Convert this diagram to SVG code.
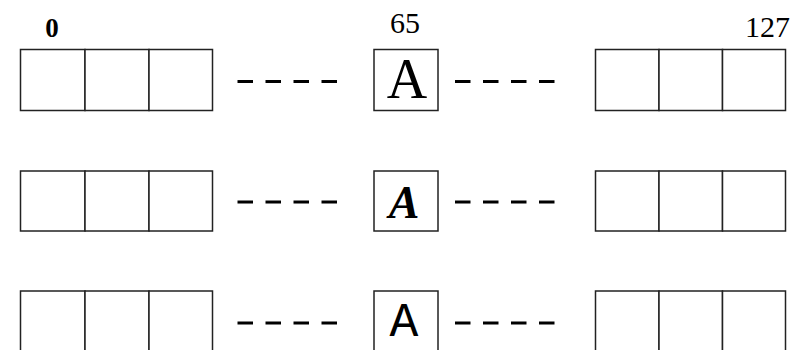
<svg xmlns="http://www.w3.org/2000/svg" width="808" height="350" viewBox="0 0 808 350">
<style>
.cell{fill:#fff;stroke:#222;stroke-width:1.5}
.dash{stroke:#000;stroke-width:3;stroke-dasharray:15.5 12.5;fill:none}
.idx{font-family:"Liberation Serif","Times New Roman",serif;font-size:30px;fill:#000}
</style>
<rect width="808" height="350" fill="#fff"/>
<g id="labels">
<text class="idx" x="52" y="37" text-anchor="middle" font-weight="bold" style="font-size:27px">0</text>
<text class="idx" x="405" y="33" text-anchor="middle">65</text>
<text class="idx" x="790" y="37" text-anchor="end">127</text>
</g>
<g id="row1">
<g id="r1-left"><rect class="cell" x="20.5" y="49.5" width="64.5" height="61"/><rect class="cell" x="85" y="49.5" width="64" height="61"/><rect class="cell" x="149" y="49.5" width="63.5" height="61"/></g>
<g id="r1-mid"><rect class="cell" x="374" y="49.5" width="64" height="61"/><text x="407" y="97.5" text-anchor="middle" style="font-family:'Liberation Serif','Times New Roman',serif;font-size:56px;fill:#000">A</text></g>
<g id="r1-right"><rect class="cell" x="595.5" y="49.5" width="63.5" height="61"/><rect class="cell" x="659" y="49.5" width="63.5" height="61"/><rect class="cell" x="722.5" y="49.5" width="63" height="61"/></g>
</g>
<g id="row2">
<g id="r2-left"><rect class="cell" x="20.5" y="171" width="64.5" height="60"/><rect class="cell" x="85" y="171" width="64" height="60"/><rect class="cell" x="149" y="171" width="63.5" height="60"/></g>
<g id="r2-mid"><rect class="cell" x="374" y="171" width="64" height="60"/><text x="404" y="218" text-anchor="middle" style="font-family:'Liberation Serif','Times New Roman',serif;font-style:italic;font-weight:bold;font-size:46px;fill:#000">A</text></g>
<g id="r2-right"><rect class="cell" x="595.5" y="171" width="63.5" height="60"/><rect class="cell" x="659" y="171" width="63.5" height="60"/><rect class="cell" x="722.5" y="171" width="63" height="60"/></g>
</g>
<g id="row3">
<g id="r3-left"><rect class="cell" x="20.5" y="291" width="64.5" height="62"/><rect class="cell" x="85" y="291" width="64" height="62"/><rect class="cell" x="149" y="291" width="63.5" height="62"/></g>
<g id="r3-mid"><rect class="cell" x="374" y="291" width="64" height="62"/><text x="404" y="336" text-anchor="middle" style="font-family:'Liberation Mono','Courier New',monospace;font-size:48px;fill:#000">A</text></g>
<g id="r3-right"><rect class="cell" x="595.5" y="291" width="63.5" height="62"/><rect class="cell" x="659" y="291" width="63.5" height="62"/><rect class="cell" x="722.5" y="291" width="63" height="62"/></g>
</g>
<g id="connectors">
<line class="dash" x1="237.5" y1="81.5" x2="337.5" y2="81.5"/>
<line class="dash" x1="455" y1="81.5" x2="555" y2="81.5"/>
<line class="dash" x1="237.5" y1="202" x2="337.5" y2="202"/>
<line class="dash" x1="455" y1="202" x2="555" y2="202"/>
<line class="dash" x1="237.5" y1="323" x2="337.5" y2="323"/>
<line class="dash" x1="455" y1="323" x2="555" y2="323"/>
</g>
</svg>
